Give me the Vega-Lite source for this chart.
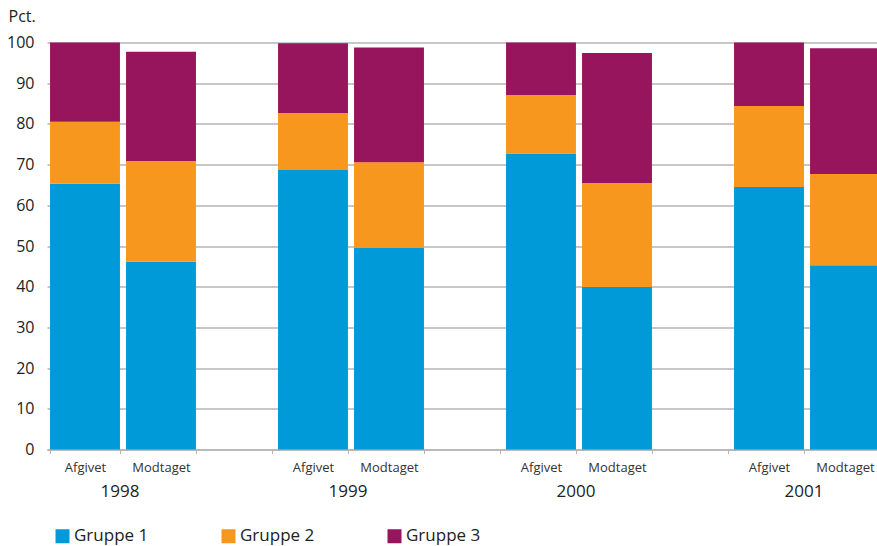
{
  "$schema": "https://vega.github.io/schema/vega-lite/v6.json",
  "width": 830,
  "height": 407,
  "autosize": {"type": "none"},
  "padding": {"left": 47, "top": 42.5, "right": 0, "bottom": 96.5},
  "background": "white",
  "config": {"font": "Open Sans", "view": {"stroke": null}},
  "datasets": {
    "shares": [
      {"slot": "1998 Afgivet", "gruppe": "Gruppe 1", "pct": 65.3},
      {"slot": "1998 Afgivet", "gruppe": "Gruppe 2", "pct": 15.2},
      {"slot": "1998 Afgivet", "gruppe": "Gruppe 3", "pct": 19.5},
      {"slot": "1998 Modtaget", "gruppe": "Gruppe 1", "pct": 46.1},
      {"slot": "1998 Modtaget", "gruppe": "Gruppe 2", "pct": 24.8},
      {"slot": "1998 Modtaget", "gruppe": "Gruppe 3", "pct": 26.8},
      {"slot": "1999 Afgivet", "gruppe": "Gruppe 1", "pct": 68.7},
      {"slot": "1999 Afgivet", "gruppe": "Gruppe 2", "pct": 14.0},
      {"slot": "1999 Afgivet", "gruppe": "Gruppe 3", "pct": 17.1},
      {"slot": "1999 Modtaget", "gruppe": "Gruppe 1", "pct": 49.5},
      {"slot": "1999 Modtaget", "gruppe": "Gruppe 2", "pct": 21.1},
      {"slot": "1999 Modtaget", "gruppe": "Gruppe 3", "pct": 28.2},
      {"slot": "2000 Afgivet", "gruppe": "Gruppe 1", "pct": 72.7},
      {"slot": "2000 Afgivet", "gruppe": "Gruppe 2", "pct": 14.4},
      {"slot": "2000 Afgivet", "gruppe": "Gruppe 3", "pct": 12.9},
      {"slot": "2000 Modtaget", "gruppe": "Gruppe 1", "pct": 39.9},
      {"slot": "2000 Modtaget", "gruppe": "Gruppe 2", "pct": 25.6},
      {"slot": "2000 Modtaget", "gruppe": "Gruppe 3", "pct": 31.9},
      {"slot": "2001 Afgivet", "gruppe": "Gruppe 1", "pct": 64.5},
      {"slot": "2001 Afgivet", "gruppe": "Gruppe 2", "pct": 19.9},
      {"slot": "2001 Afgivet", "gruppe": "Gruppe 3", "pct": 15.6},
      {"slot": "2001 Modtaget", "gruppe": "Gruppe 1", "pct": 45.3},
      {"slot": "2001 Modtaget", "gruppe": "Gruppe 2", "pct": 22.4},
      {"slot": "2001 Modtaget", "gruppe": "Gruppe 3", "pct": 30.9}
    ],
    "years": [
      {"slot": "1998 Afgivet", "year": "1998"},
      {"slot": "1999 Afgivet", "year": "1999"},
      {"slot": "2000 Afgivet", "year": "2000"},
      {"slot": "2001 Afgivet", "year": "2001"}
    ]
  },
  "layer": [
    {
      "data": {"name": "shares"},
      "mark": {"type": "bar"},
      "encoding": {
        "x": {
          "field": "slot",
          "type": "nominal",
          "scale": {
            "domain": ["1998 Afgivet", "1998 Modtaget", "gap1", "1999 Afgivet", "1999 Modtaget", "gap2", "2000 Afgivet", "2000 Modtaget", "gap3", "2001 Afgivet", "2001 Modtaget"],
            "range": [0, 836],
            "paddingInner": 0.08,
            "paddingOuter": 0.04
          },
          "axis": {
            "title": null,
            "labelAngle": 0,
            "labelExpr": "indexof(datum.label, ' ') > 0 ? split(datum.label, ' ')[1] : ''",
            "labelFontSize": 13,
            "labelColor": "#333333",
            "labelPadding": 8,
            "tickBand": "extent",
            "tickSize": 4,
            "tickColor": "#b4b4b4",
            "tickWidth": 1,
            "domainColor": "#b4b4b4",
            "domainWidth": 1.5,
            "grid": false
          }
        },
        "y": {
          "field": "pct",
          "type": "quantitative",
          "stack": "zero",
          "scale": {"domain": [0, 100], "nice": false},
          "axis": {
            "title": "Pct.",
            "titleAngle": 0,
            "titleAlign": "left",
            "titleBaseline": "middle",
            "titleX": -39,
            "titleY": -26.5,
            "titleFontSize": 16,
            "titleFontWeight": "normal",
            "titleColor": "#222222",
            "values": [0, 10, 20, 30, 40, 50, 60, 70, 80, 90, 100],
            "grid": true,
            "gridColor": "#b4b4b4",
            "gridWidth": 1.5,
            "domain": false,
            "ticks": false,
            "labelFontSize": 16,
            "labelColor": "#222222",
            "labelPadding": 13
          }
        },
        "color": {
          "field": "gruppe",
          "type": "nominal",
          "scale": {
            "domain": ["Gruppe 1", "Gruppe 2", "Gruppe 3"],
            "range": ["#009ad8", "#f7971d", "#97155d"]
          },
          "legend": {
            "orient": "none",
            "legendX": 7,
            "legendY": 485,
            "direction": "horizontal",
            "title": null,
            "symbolType": "square",
            "symbolSize": 196,
            "symbolStrokeWidth": 0,
            "symbolOpacity": 1,
            "labelFontSize": 17,
            "labelColor": "#222222",
            "labelOffset": 3,
            "columnPadding": 71
          }
        },
        "order": {"field": "gruppe", "sort": "ascending"}
      }
    },
    {
      "data": {"name": "years"},
      "mark": {"type": "text", "fontSize": 17, "align": "center", "baseline": "middle", "color": "#222222"},
      "encoding": {
        "x": {"field": "slot", "type": "nominal", "bandPosition": 1},
        "y": {"datum": -10.4, "type": "quantitative"},
        "text": {"field": "year"}
      }
    }
  ]
}
